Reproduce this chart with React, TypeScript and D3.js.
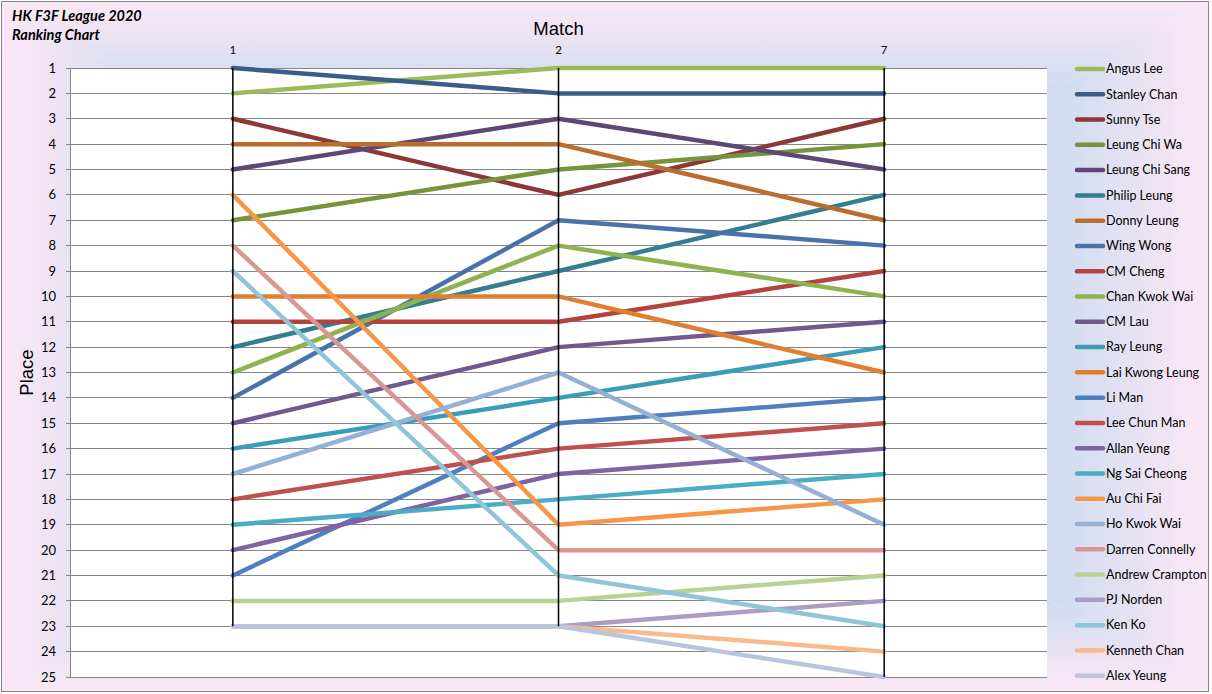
import { useMemo } from 'react'
import * as d3 from 'd3'

const matches = ['1', '2', '7']

const players = [
  'Angus Lee',
  'Stanley Chan',
  'Sunny Tse',
  'Leung Chi Wa',
  'Leung Chi Sang',
  'Philip Leung',
  'Donny Leung',
  'Wing Wong',
  'CM Cheng',
  'Chan Kwok Wai',
  'CM Lau',
  'Ray Leung',
  'Lai Kwong Leung',
  'Li Man',
  'Lee Chun Man',
  'Allan Yeung',
  'Ng Sai Cheong',
  'Au Chi Fai',
  'Ho Kwok Wai',
  'Darren Connelly',
  'Andrew Crampton',
  'PJ Norden',
  'Ken Ko',
  'Kenneth Chan',
  'Alex Yeung',
]

// place after match 1, 2, 7
const places = [
  [2, 1, 1],
  [1, 2, 2],
  [3, 6, 3],
  [7, 5, 4],
  [5, 3, 5],
  [12, 9, 6],
  [4, 4, 7],
  [14, 7, 8],
  [11, 11, 9],
  [13, 8, 10],
  [15, 12, 11],
  [16, 14, 12],
  [10, 10, 13],
  [21, 15, 14],
  [18, 16, 15],
  [20, 17, 16],
  [19, 18, 17],
  [6, 19, 18],
  [17, 13, 19],
  [8, 20, 20],
  [22, 22, 21],
  [23, 23, 22],
  [9, 21, 23],
  [23, 23, 24],
  [23, 23, 25],
]

const colors = [
  '#9bbb59',
  '#385d8a',
  '#8c3836',
  '#77933c',
  '#5c4776',
  '#357d91',
  '#b96d2f',
  '#4a72aa',
  '#b4423f',
  '#8fb250',
  '#71588f',
  '#3a9db8',
  '#e07f30',
  '#4f7fbf',
  '#c0504d',
  '#8064a2',
  '#4bacc6',
  '#f79646',
  '#95b0d5',
  '#d99694',
  '#b9d192',
  '#aa9cc2',
  '#8fc5d8',
  '#f9b98c',
  '#b9c5de',
]

const placeTicks = d3.range(1, 26)

const W = 1212
const H = 694
const margin = { top: 68, right: 165, bottom: 17, left: 70 }
const fontFamily = 'Lato, "Open Sans", sans-serif'

const PINK = '#fce8f6'
const BLUE = '#c8d9ef'

export default function App() {
  const plotW = W - margin.left - margin.right
  const plotBottom = H - margin.bottom

  const { x, y } = useMemo(() => {
    const xScale = d3
      .scalePoint<string>()
      .domain(matches)
      .range([margin.left, margin.left + plotW])
      .padding(0.5)
    const yScale = d3
      .scaleLinear()
      .domain([1, 25])
      .range([margin.top, plotBottom])
    return { x: xScale, y: yScale }
  }, [plotW, plotBottom])

  const line = d3
    .line<number>()
    .x((_, i) => x(matches[i]) ?? 0)
    .y((d) => y(d))

  const legendY = d3
    .scaleLinear()
    .domain([0, players.length - 1])
    .range([69, 675.7])

  const bx0 = 1
  const by0 = 1
  const bx1 = 1209
  const by1 = 692
  const cx = (bx0 + bx1) / 2
  const cy = (by0 + by1) / 2

  const grads = [
    { id: 'gTop', x1: cx, y1: by0, x2: cx, y2: cy, pts: `${bx0},${by0} ${bx1},${by0} ${cx},${cy}` },
    { id: 'gBot', x1: cx, y1: by1, x2: cx, y2: cy, pts: `${bx0},${by1} ${bx1},${by1} ${cx},${cy}` },
    { id: 'gLeft', x1: bx0, y1: cy, x2: cx, y2: cy, pts: `${bx0},${by0} ${bx0},${by1} ${cx},${cy}` },
    { id: 'gRight', x1: bx1, y1: cy, x2: cx, y2: cy, pts: `${bx1},${by0} ${bx1},${by1} ${cx},${cy}` },
  ]

  return (
    <div style={{ position: 'fixed', left: 0, top: 0 }}>
      <svg width={W} height={H} style={{ display: 'block', fontFamily }}>
        <defs>
          {grads.map((g) => (
            <linearGradient
              key={g.id}
              id={g.id}
              gradientUnits="userSpaceOnUse"
              x1={g.x1}
              y1={g.y1}
              x2={g.x2}
              y2={g.y2}
            >
              <stop offset="0" stopColor={PINK} />
              <stop offset="0.3" stopColor={BLUE} />
              <stop offset="1" stopColor={BLUE} />
            </linearGradient>
          ))}
        </defs>

        <rect width={W} height={H} fill="#fff" />
        {grads.map((g) => (
          <polygon key={g.id} points={g.pts} fill={`url(#${g.id})`} />
        ))}
        <rect
          x={bx0 + 0.5}
          y={by0 + 0.5}
          width={bx1 - bx0 - 1}
          height={by1 - by0 - 1}
          fill="none"
          stroke="#868686"
          strokeWidth={1}
        />

        {/* chart title */}
        <g fontWeight="bold" fontStyle="italic" fontSize="14.5" fill="#000">
          <text x={12} y={21}>HK F3F League 2020</text>
          <text x={12} y={40}>Ranking Chart</text>
        </g>

        {/* plot area */}
        <rect
          x={margin.left}
          y={margin.top}
          width={plotW}
          height={plotBottom - margin.top}
          fill="#fff"
        />

        <g stroke="#868686" strokeWidth={1} shapeRendering="crispEdges">
          {placeTicks.map((t) => (
            <line
              key={t}
              x1={margin.left - 4}
              x2={margin.left + plotW}
              y1={y(t)}
              y2={y(t)}
            />
          ))}
          <line
            x1={margin.left}
            x2={margin.left}
            y1={margin.top}
            y2={plotBottom}
          />
        </g>

        <g fontSize="13" fill="#000" textAnchor="end">
          {placeTicks.map((t) => (
            <text key={t} x={56} y={y(t) + 4.5}>
              {t}
            </text>
          ))}
        </g>

        <g fontSize="11.5" fill="#000" textAnchor="middle">
          {matches.map((m) => (
            <text key={m} x={x(m)} y={54}>
              {m}
            </text>
          ))}
        </g>

        <g fontFamily='"Liberation Sans", Arial, sans-serif' fontSize="18.5" fill="#000">
          <text x={x('2')} y={35} textAnchor="middle">
            Match
          </text>
          <text
            transform={`translate(33,${(margin.top + plotBottom) / 2}) rotate(-90)`}
            textAnchor="middle"
          >
            Place
          </text>
        </g>

        {/* ranking lines */}
        <g fill="none" strokeWidth={4.5} strokeLinecap="round" strokeLinejoin="round">
          {places.map((p, i) => (
            <path key={players[i]} d={line(p) ?? ''} stroke={colors[i]} />
          ))}
        </g>

        {/* high-low lines */}
        <g stroke="#000" strokeWidth={1.5}>
          {matches.map((m, j) => {
            const col = places.map((p) => p[j])
            return (
              <line
                key={m}
                x1={x(m)}
                x2={x(m)}
                y1={y(d3.min(col) ?? 1)}
                y2={y(d3.max(col) ?? 25)}
              />
            )
          })}
        </g>

        {/* legend */}
        <g fontSize="12.5" fill="#000">
          {players.map((name, i) => (
            <g key={name} transform={`translate(0,${legendY(i)})`}>
              <line
                x1={1077}
                x2={1103}
                y1={0}
                y2={0}
                stroke={colors[i]}
                strokeWidth={4.5}
                strokeLinecap="round"
              />
              <text x={1106} y={4.3}>
                {name}
              </text>
            </g>
          ))}
        </g>
      </svg>
    </div>
  )
}
